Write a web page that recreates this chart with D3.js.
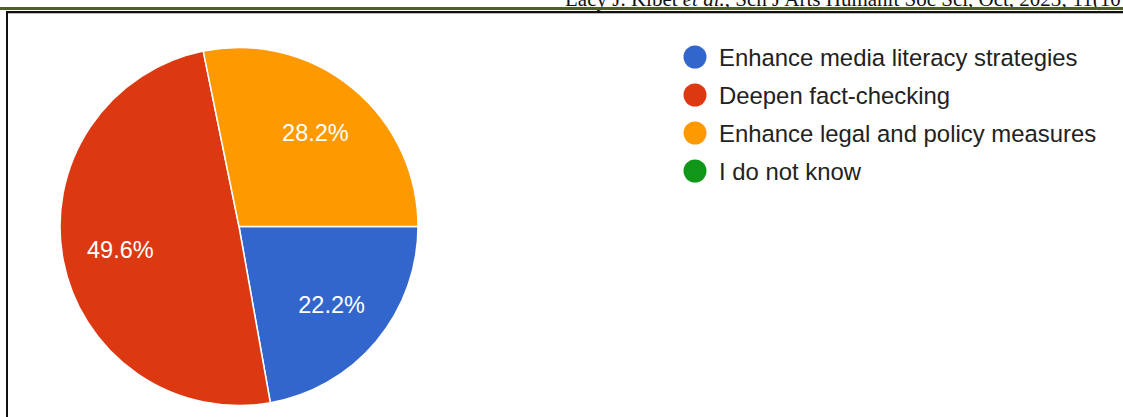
<!DOCTYPE html>
<html>
<head>
<meta charset="utf-8">
<script src="https://cdn.jsdelivr.net/npm/d3@7"></script>
<style>
  html, body { margin: 0; padding: 0; background: #fff; }
  svg { display: block; }
</style>
</head>
<body>
<svg id="chart" width="1123" height="417"></svg>
<script>
// answers and their shares (%)
var categories = ["Enhance media literacy strategies", "Deepen fact-checking", "Enhance legal and policy measures", "I do not know"];
var shares = [22.2, 49.6, 28.2, 0];
var colors = ["#3366cc", "#dc3912", "#ff9900", "#109618"];

var svg = d3.select("#chart");

// running header of the page the chart was cut from (cut off at the top, as in the scan)
var head = svg.append("text")
    .attr("x", 565)
    .attr("y", 5.5)
    .style("font-family", "'Liberation Serif', 'Times New Roman', serif")
    .style("font-size", "21px")
    .style("fill", "#111");
head.append("tspan").text("Lacy J. Kibet ");
head.append("tspan").style("font-style", "italic").text("et al.");
head.append("tspan").text(", Sch J Arts Humanit Soc Sci, Oct, 2023; 11(10)");

svg.append("rect").attr("x", 0).attr("y", 7).attr("width", 1123).attr("height", 3).attr("fill", "#4e5f2a");
// frame of the figure
svg.append("line").attr("x1", 6).attr("x2", 1123).attr("y1", 12).attr("y2", 12)
    .attr("stroke", "#111").attr("stroke-width", 2);
svg.append("line").attr("x1", 6).attr("x2", 1123).attr("y1", 13.5).attr("y2", 13.5)
    .attr("stroke", "#bbb").attr("stroke-width", 1);
svg.append("line").attr("x1", 7).attr("x2", 7).attr("y1", 11).attr("y2", 417)
    .attr("stroke", "#111").attr("stroke-width", 2);

var cx = 239, cy = 226.5, r = 179;

var pie = d3.pie().sort(null).value(function (d) { return d; })
    .startAngle(Math.PI / 2).endAngle(Math.PI / 2 + 2 * Math.PI);
var arcs = pie(shares);

var arc = d3.arc().innerRadius(0).outerRadius(r);
var labelArc = d3.arc().innerRadius(r * 0.675).outerRadius(r * 0.675);

var g = svg.append("g").attr("transform", "translate(" + cx + "," + cy + ")");

g.selectAll("path.slice")
    .data(arcs.filter(function (d) { return d.value > 0; }))
    .enter().append("path")
    .attr("class", "slice")
    .attr("d", arc)
    .attr("fill", function (d) { return colors[d.index]; })
    .attr("stroke", "#fff")
    .attr("stroke-width", 1.5);

g.selectAll("text.pct")
    .data(arcs.filter(function (d) { return d.value > 0; }))
    .enter().append("text")
    .attr("class", "pct")
    .attr("transform", function (d) { return "translate(" + labelArc.centroid(d) + ")"; })
    .attr("text-anchor", "middle")
    .attr("dy", "0.36em")
    .style("font-family", "Arial, 'Liberation Sans', sans-serif")
    .style("font-size", "23.5px")
    .style("fill", "#fff")
    .text(function (d) { return d3.format(".1f")(d.value) + "%"; });

// legend
var legend = svg.append("g").attr("transform", "translate(695,57)");
var item = legend.selectAll("g.item")
    .data(categories)
    .enter().append("g")
    .attr("class", "item")
    .attr("transform", function (d, i) { return "translate(0," + i * 38 + ")"; });

item.append("circle")
    .attr("r", 11.5)
    .attr("fill", function (d, i) { return colors[i]; });

item.append("text")
    .attr("x", 24)
    .attr("dy", "0.36em")
    .style("font-family", "Arial, 'Liberation Sans', sans-serif")
    .style("font-size", "23.9px")
    .style("fill", "#222")
    .text(function (d) { return d; });
</script>
</body>
</html>
